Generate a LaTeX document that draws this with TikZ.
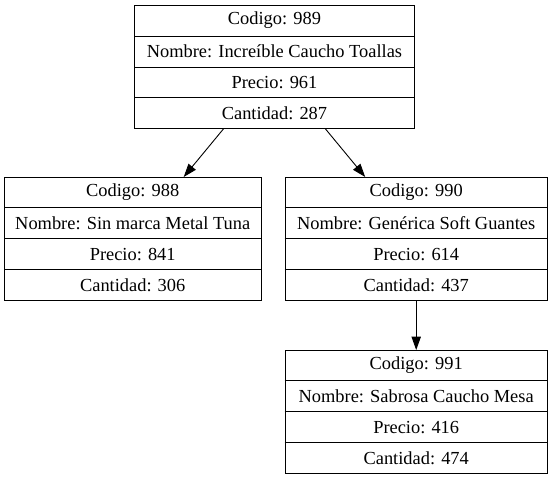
\documentclass[tikz,border=0pt]{standalone}
\usepackage{fontspec}
\setmainfont{Liberation Serif}
\usetikzlibrary{arrows.meta,calc}
\tikzset{
  recbox/.style={draw, line width=0.9pt, inner sep=0pt, anchor=north west},
  rowtext/.style={inner sep=0pt, font=\fontsize{18.4}{20}\selectfont},
  rowline/.style={line width=0.9pt},
  edge/.style={line width=0.9pt, -{Triangle[length=13.3pt,width=9.3pt]}}
}
% name, left, top, width, height, t1..t4
\newcommand\recnode[9]{%
  \node[recbox, minimum width=#4pt, minimum height=#5pt] (#1) at (#2,#3) {};
  \foreach \k in {1,2,3} {\draw[rowline] ($(#1.north west)!\k/4!(#1.south west)$) -- ($(#1.north east)!\k/4!(#1.south east)$);}
  \node[rowtext] (#1-r1) at ($(#1.north)!0.125!(#1.south)$) {#6};
  \node[rowtext] (#1-r2) at ($(#1.north)!0.375!(#1.south)$) {#7};
  \node[rowtext] (#1-r3) at ($(#1.north)!0.625!(#1.south)$) {#8};
  \node[rowtext] (#1-r4) at ($(#1.north)!0.875!(#1.south)$) {#9};
}
\begin{document}
\begin{tikzpicture}[x=1pt,y=-1pt]
\useasboundingbox (0,0) rectangle (551,479);
\recnode{n989}{134}{5}{280}{123}{Codigo: 989}{Nombre: Increíble Caucho Toallas}{Precio: 961}{Cantidad: 287}
\recnode{n988}{4}{177}{256.5}{122.5}{Codigo: 988}{Nombre: Sin marca Metal Tuna}{Precio: 841}{Cantidad: 306}
\recnode{n990}{284.5}{177}{262.5}{122.5}{Codigo: 990}{Nombre: Genérica Soft Guantes}{Precio: 614}{Cantidad: 437}
\recnode{n991}{284.5}{350}{262.5}{122.5}{Codigo: 991}{Nombre: Sabrosa Caucho Mesa}{Precio: 416}{Cantidad: 474}
\draw[edge] ([xshift=-51pt]n989.south) -- ([xshift=51pt]n988.north);
\draw[edge] ([xshift=51pt]n989.south) -- ([xshift=-51pt]n990.north);
\draw[edge] (n990.south) -- (n991.north);
\end{tikzpicture}
\end{document}
